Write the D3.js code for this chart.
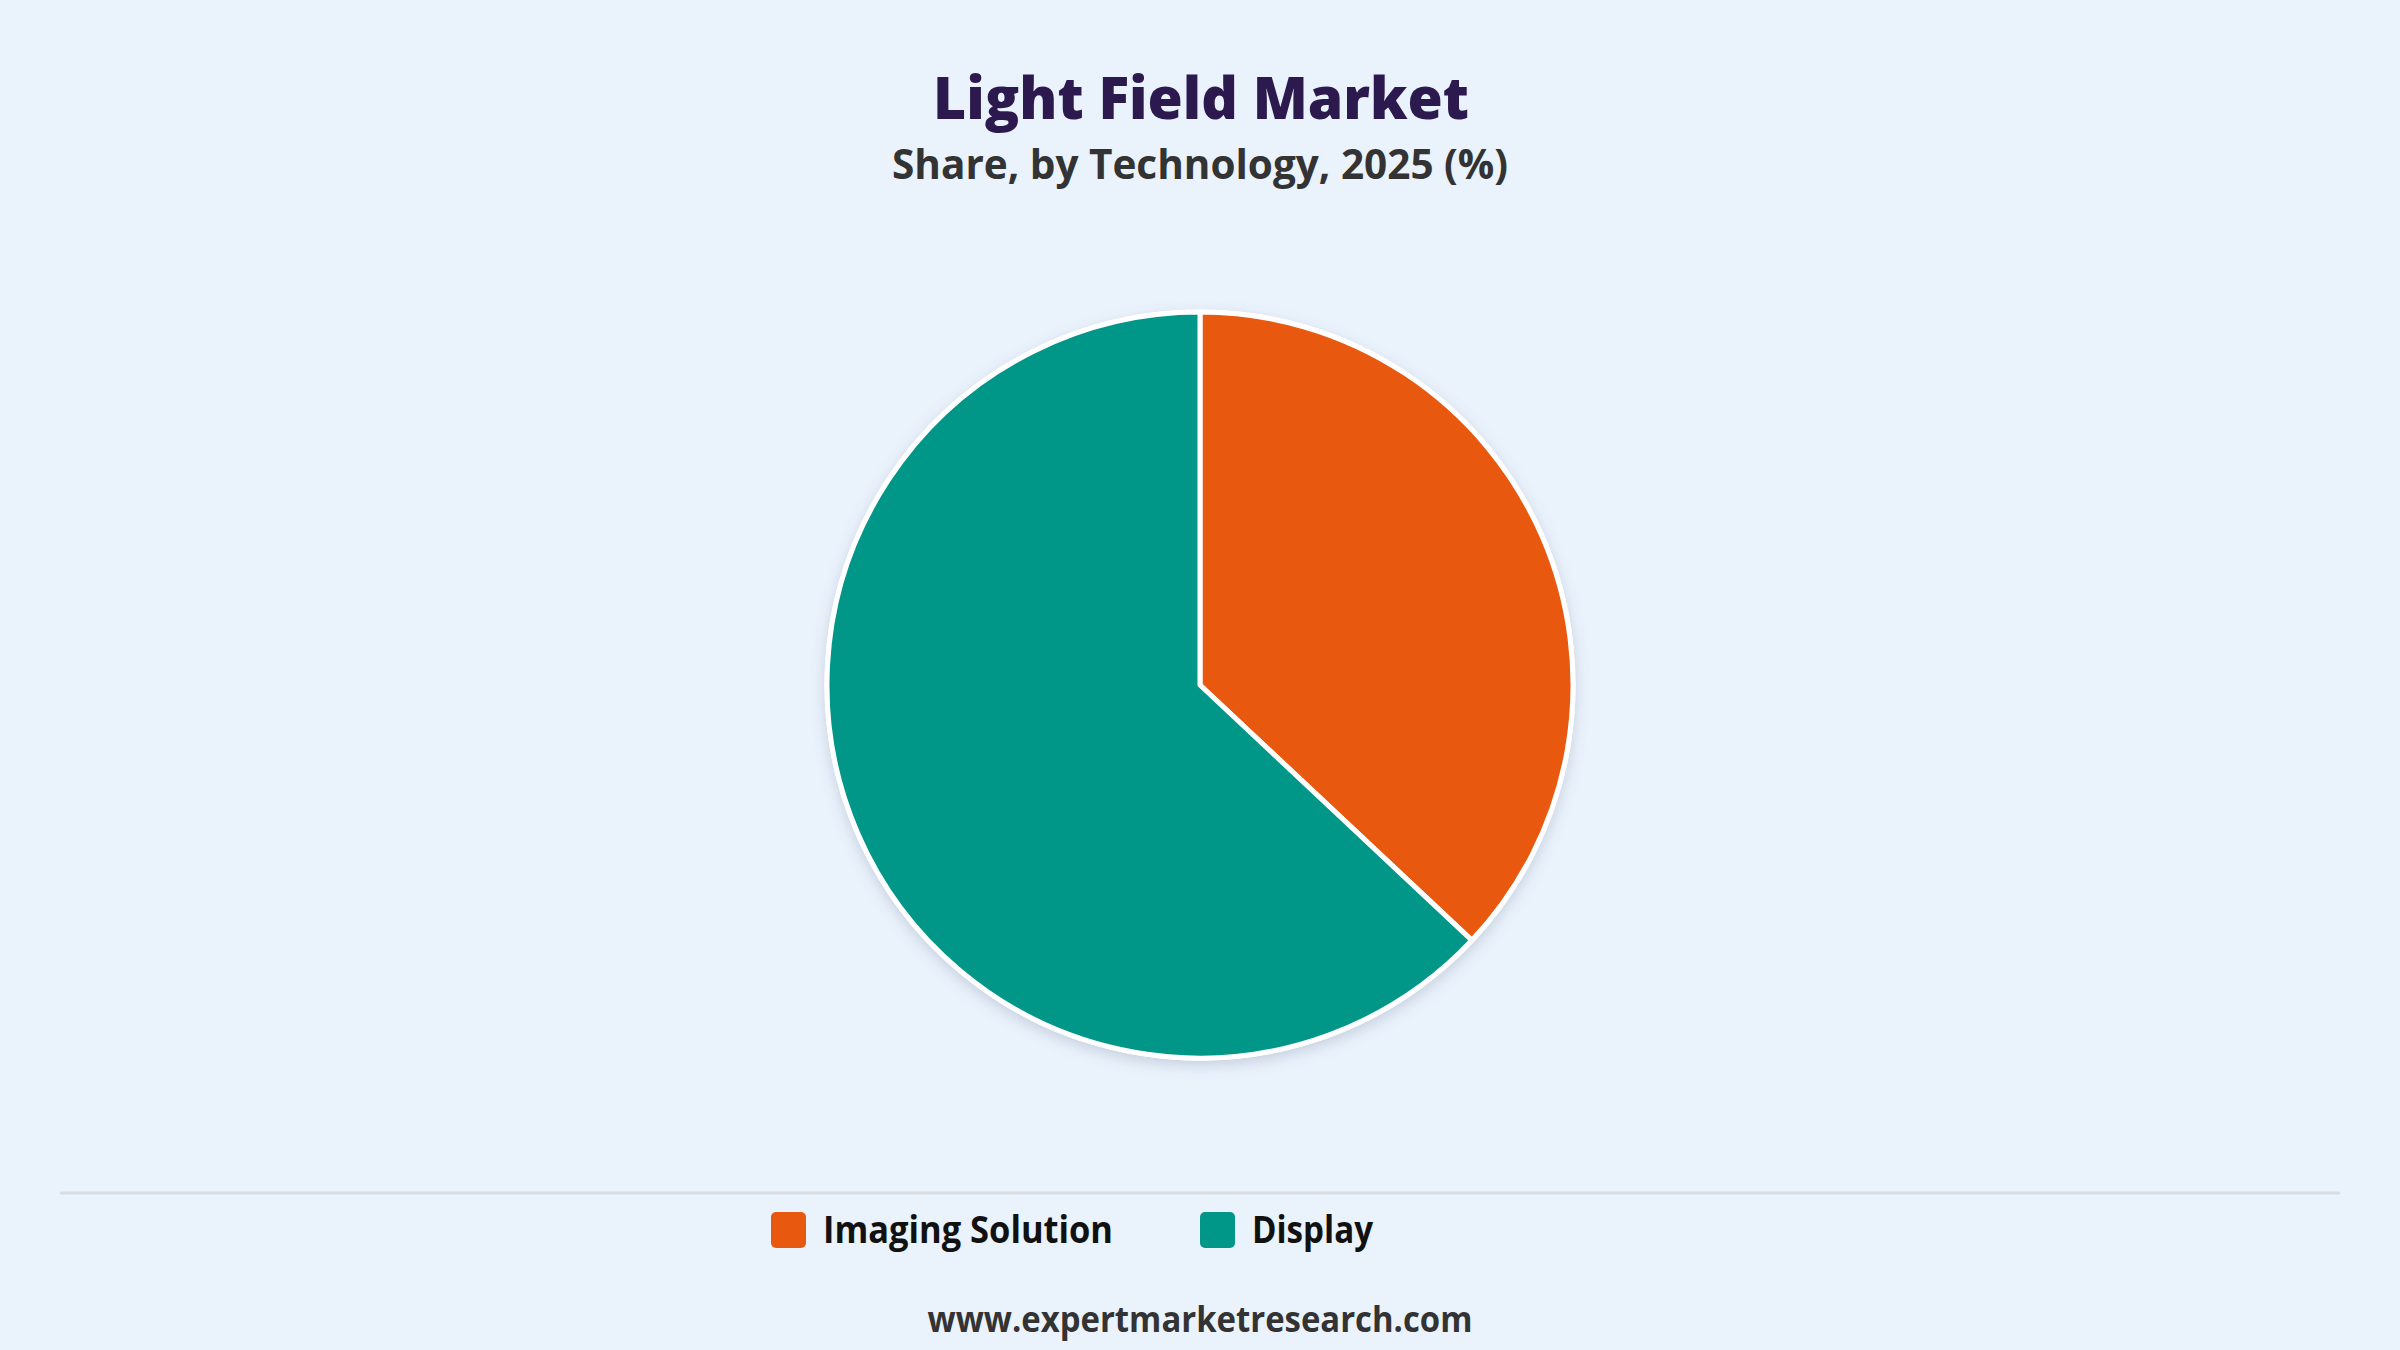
<!DOCTYPE html>
<html>
<head>
<meta charset="utf-8">
<script src="https://cdn.jsdelivr.net/npm/d3@7"></script>
<style>
  html, body { margin: 0; padding: 0; background: #eaf2fc; }
  svg { display: block; }
  text { font-family: "Open Sans", "Noto Sans", sans-serif; }
</style>
</head>
<body>
<svg id="chart" width="2400" height="1350"></svg>
<script>
const categories = ["Imaging Solution", "Display"];
const values = [37, 63];
const colors = ["#e8580f", "#009688"];
const titleText = "Light Field Market";
const subtitleText = "Share, by Technology, 2025 (%)";
const footerText = "www.expertmarketresearch.com";

const W = 2400, H = 1350;
const svg = d3.select("#chart");

svg.append("rect").attr("width", W).attr("height", H).attr("fill", "#eaf2fc");

const defs = svg.append("defs");
const f = defs.append("filter").attr("id", "shadow")
  .attr("x", "-20%").attr("y", "-20%").attr("width", "140%").attr("height", "140%");
f.append("feDropShadow").attr("dx", 0).attr("dy", 5).attr("stdDeviation", 7)
  .attr("flood-color", "#6b7a90").attr("flood-opacity", 0.28);

function fitText(sel, width) {
  sel.attr("textLength", width).attr("lengthAdjust", "spacingAndGlyphs");
}

// Title
const t = svg.append("text").attr("x", 1201).attr("y", 119)
  .attr("text-anchor", "middle").attr("font-size", 58).attr("font-weight", 800)
  .attr("fill", "#2c1a4f").text(titleText);
fitText(t, 536);

const st = svg.append("text").attr("x", 1200).attr("y", 179)
  .attr("text-anchor", "middle").attr("font-size", 41).attr("font-weight", 700)
  .attr("fill", "#333333").text(subtitleText);
fitText(st, 616);

// Pie
const cx = 1200, cy = 685, R = 373;
const pie = d3.pie().sort(null).value(d => d.value);
const arc = d3.arc().innerRadius(0).outerRadius(R);
const data = categories.map((c, i) => ({ name: c, value: values[i], color: colors[i] }));

const g = svg.append("g").attr("transform", `translate(${cx},${cy})`);
g.append("circle").attr("r", R + 2.5).attr("fill", "#ffffff").attr("filter", "url(#shadow)");
g.selectAll("path").data(pie(data)).join("path")
  .attr("d", arc)
  .attr("fill", d => d.data.color)
  .attr("stroke", "#ffffff")
  .attr("stroke-width", 5)
  .attr("stroke-linejoin", "round");

// Separator line
svg.append("line").attr("x1", 60).attr("x2", 2340).attr("y1", 1193).attr("y2", 1193)
  .attr("stroke", "#d9dde2").attr("stroke-width", 3);

// Legend
const legendX = [771, 1200];
const legendW = [290, 121];
const lg = svg.append("g");
data.forEach((d, i) => {
  lg.append("rect").attr("x", legendX[i]).attr("y", 1212).attr("width", 35).attr("height", 36)
    .attr("rx", 5).attr("fill", d.color);
  const lt = lg.append("text").attr("x", legendX[i] + 52).attr("y", 1243)
    .attr("font-size", 37).attr("font-weight", 700).attr("fill", "#111111").text(d.name);
  fitText(lt, legendW[i]);
});

// Footer
const ft = svg.append("text").attr("x", 1200).attr("y", 1332)
  .attr("text-anchor", "middle").attr("font-size", 36).attr("font-weight", 700)
  .attr("fill", "#333333").text(footerText);
fitText(ft, 545);
</script>
</body>
</html>
